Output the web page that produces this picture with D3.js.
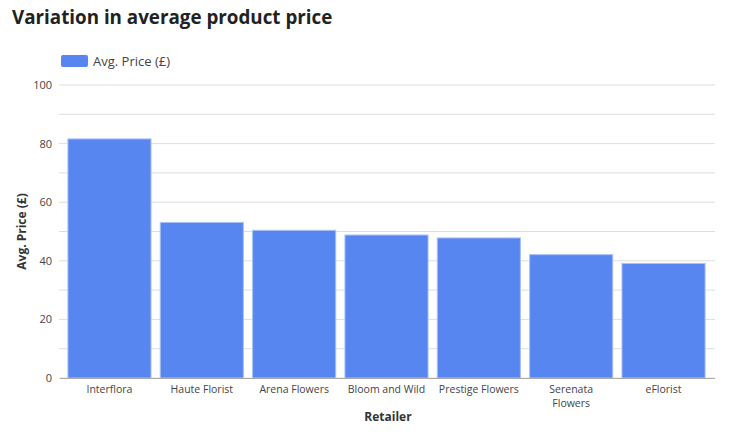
<!DOCTYPE html>
<html>
<head>
<meta charset="utf-8">
<script src="https://cdn.jsdelivr.net/npm/d3@7"></script>
<style>
  body { margin: 0; background: #fff; }
  svg { display: block; font-family: "Open Sans", "DejaVu Sans", sans-serif; }
</style>
</head>
<body>
<div id="chart"></div>
<script>
// Chart data
const retailers = ["Interflora", "Haute Florist", "Arena Flowers", "Bloom and Wild", "Prestige Flowers", "Serenata Flowers", "eFlorist"];
const avgPrices = [81.6, 53.1, 50.4, 48.8, 47.8, 42.1, 39.1];
const yTicks = [0, 20, 40, 60, 80, 100];
const gridValues = [0, 10, 20, 30, 40, 50, 60, 70, 80, 90, 100];

const font = '"Open Sans", "DejaVu Sans", sans-serif';
const width = 731, height = 438;
const margins = {top: 85, right: 16, bottom: 60, left: 60};

const data = retailers.map((r, i) => ({retailer: r, value: avgPrices[i]}));

const svg = d3.select("#chart")
  .append("svg")
  .attr("width", width)
  .attr("height", height);

// Scales
const x = d3.scaleBand()
  .domain(retailers)
  .range([63.3, 709.7])
  .paddingInner(0.1)
  .paddingOuter(0.05);

const y = d3.scaleLinear()
  .domain([0, 100])
  .range([height - margins.bottom, margins.top]);

// Title
svg.append("text")
  .attr("x", 12)
  .attr("y", 24)
  .style("font-size", "18.8px")
  .style("font-weight", "bold")
  .style("fill", "#222")
  .text("Variation in average product price");

// Legend
svg.append("rect")
  .attr("x", 61).attr("y", 55)
  .attr("width", 27).attr("height", 12)
  .attr("rx", 2)
  .attr("fill", "#5886f0");
svg.append("text")
  .attr("x", 93).attr("y", 66)
  .style("font-size", "13px")
  .style("fill", "#444")
  .text("Avg. Price (£)");

// Gridlines
svg.append("g")
  .selectAll("line")
  .data(gridValues)
  .join("line")
    .attr("x1", margins.left - 1)
    .attr("x2", width - margins.right)
    .attr("y1", d => y(d))
    .attr("y2", d => y(d))
    .attr("stroke", "#dedede")
    .attr("stroke-width", 1);

// Y axis labels
const yAxis = d3.axisLeft(y).tickValues(yTicks).tickSize(0).tickPadding(8);
svg.append("g")
    .attr("transform", `translate(${margins.left},0)`)
  .call(yAxis)
  .call(g => g.select(".domain").remove())
  .call(g => g.selectAll("text")
    .style("font-family", font)
    .style("font-size", "11px")
    .style("fill", "#444"));

// Bars
svg.append("g")
  .selectAll("rect")
  .data(data)
  .join("rect")
    .attr("x", d => x(d.retailer))
    .attr("y", d => y(d.value))
    .attr("width", x.bandwidth())
    .attr("height", d => y(0) - y(d.value))
    .attr("fill", "#5886f0")
    .attr("stroke", "#a9c0f6")
    .attr("stroke-width", 1);

// X axis
const xAxis = d3.axisBottom(x).tickSize(0).tickPadding(8);
const xGroup = svg.append("g")
    .attr("transform", `translate(0,${y(0)})`)
  .call(xAxis);
xGroup.select(".domain")
  .attr("d", `M${margins.left},0.5H${width - margins.right}`)
  .attr("stroke", "#aaa");
xGroup.selectAll("text")
  .style("font-family", font)
  .style("font-size", "10.5px")
  .style("fill", "#444")
  .call(wrap, x.bandwidth());

// Axis titles
svg.append("text")
  .attr("x", 388)
  .attr("y", 421)
  .attr("text-anchor", "middle")
  .style("font-size", "12px")
  .style("font-weight", "bold")
  .style("fill", "#333")
  .text("Retailer");

svg.append("text")
  .attr("transform", `translate(26,${(y(0) + y(100)) / 2}) rotate(-90)`)
  .attr("text-anchor", "middle")
  .style("font-size", "12px")
  .style("font-weight", "bold")
  .style("fill", "#333")
  .text("Avg. Price (£)");

// Wrap long tick labels onto two lines
function wrap(text, w) {
  text.each(function() {
    const t = d3.select(this);
    const words = t.text().split(/\s+/);
    const yy = t.attr("y"), dy = parseFloat(t.attr("dy"));
    t.text(null);
    let line = [], lineNo = 0;
    let tspan = t.append("tspan").attr("x", 0).attr("y", yy).attr("dy", dy + "em");
    words.forEach(word => {
      line.push(word);
      tspan.text(line.join(" "));
      if (tspan.node().getComputedTextLength() > w - 2 && line.length > 1) {
        line.pop();
        tspan.text(line.join(" "));
        line = [word];
        lineNo++;
        tspan = t.append("tspan").attr("x", 0).attr("y", yy)
          .attr("dy", (lineNo * 1.25 + dy) + "em").text(word);
      }
    });
  });
}
</script>
</body>
</html>
